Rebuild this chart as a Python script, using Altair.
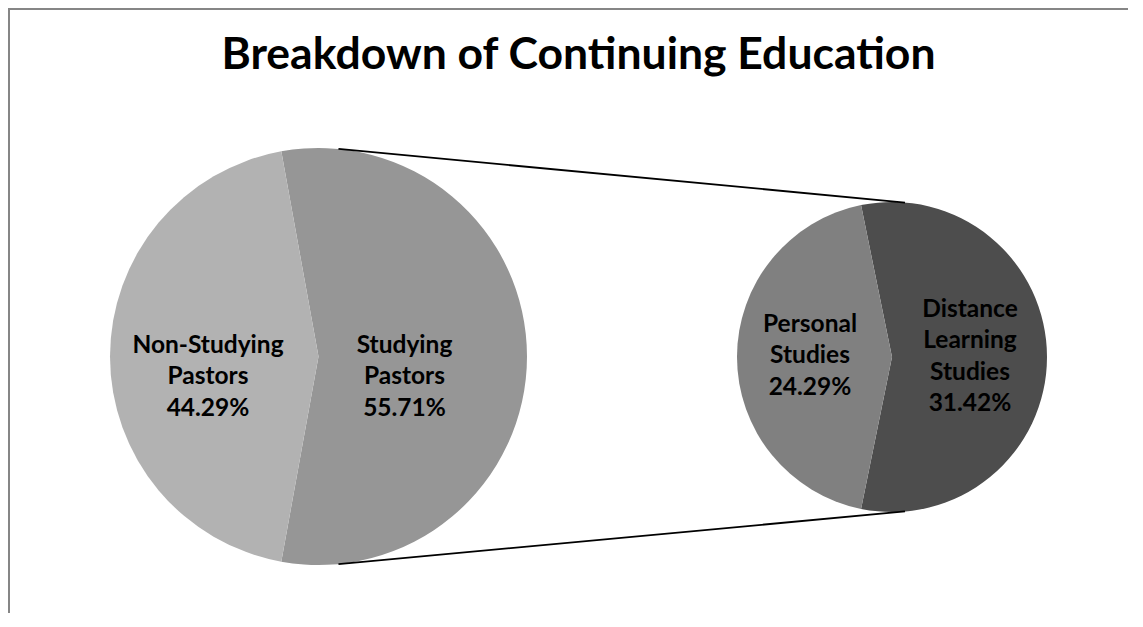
import math
import altair as alt
import pandas as pd

# ---------------- data ----------------
title_text = "Breakdown of Continuing Education"

main_cats = ["Studying Pastors", "Non-Studying Pastors"]
main_lines = [["Studying", "Pastors"], ["Non-Studying", "Pastors"]]
main_vals = [55.71, 44.29]
main_colors = ["#969696", "#b2b2b2"]

sub_cats = ["Distance Learning Studies", "Personal Studies"]
sub_lines = [["Distance", "Learning", "Studies"], ["Personal", "Studies"]]
sub_vals = [31.42, 24.29]
sub_colors = ["#4d4d4d", "#808080"]

# ---------------- layout ----------------
W, H = 1120, 605
FONT = "Lato"
LABEL_SIZE = 24.5
LINE_H = 31.5
L_CX, L_CY, L_R = 310.5, 348.5, 208.5
R_CX, R_CY, R_R = 884.0, 349.0, 155.0


def make_df(cats, lines, vals):
    labels = ["\n".join(ln + [f"{v:.2f}%"]) for ln, v in zip(lines, vals)]
    return pd.DataFrame({"cat": cats, "val": vals, "ord": list(range(len(cats))), "label": labels})


def pie(df, cats, colors, cx, cy, r, label_specs):
    total = float(df["val"].sum())
    first = float(df["val"].iloc[0])
    start = math.pi / 2 - math.pi * first / total
    theta = alt.Theta("val:Q", stack=True,
                      scale=alt.Scale(domain=[0, total], range=[start, start + 2 * math.pi]))
    arcs = alt.Chart(df).mark_arc(radius=r).encode(
        theta=theta,
        order=alt.Order("ord:Q"),
        color=alt.Color("cat:N", scale=alt.Scale(domain=cats, range=colors), legend=None),
        x=alt.value(cx), y=alt.value(cy),
    )
    texts = []
    for cat, rad, dy in label_specs:
        texts.append(
            alt.Chart(df).mark_text(
                radius=rad, dy=dy, font=FONT, fontSize=LABEL_SIZE, fontWeight="bold",
                lineBreak="\n", lineHeight=LINE_H, align="center", baseline="middle",
                color="black",
            ).encode(
                theta=theta,
                order=alt.Order("ord:Q"),
                text=alt.condition(alt.datum.cat == cat, "label:N", alt.value("")),
                x=alt.value(cx), y=alt.value(cy),
            )
        )
    return alt.layer(arcs, *texts)


left_df = make_df(main_cats, main_lines, main_vals)
right_df = make_df(sub_cats, sub_lines, sub_vals)

left_pie = pie(left_df, main_cats, main_colors, L_CX, L_CY, L_R,
               [("Studying Pastors", 86, 20.5 - LINE_H), ("Non-Studying Pastors", 110.5, 20.5 - LINE_H)])
right_pie = pie(right_df, sub_cats, sub_colors, R_CX, R_CY, R_R,
                [("Distance Learning Studies", 78, -1.5 * LINE_H), ("Personal Studies", 82, -1 - LINE_H)])

one = pd.DataFrame({"k": [0]})


def seg(x1, y1, x2, y2, color, width):
    return alt.Chart(one).mark_rule(color=color, strokeWidth=width).encode(
        x=alt.value(x1), y=alt.value(y1), x2=alt.value(x2), y2=alt.value(y2))


a_l = math.radians(5.5)
a_r = math.radians(4.8)
lt = (L_CX + L_R * math.sin(a_l), L_CY - L_R * math.cos(a_l))
lb = (L_CX + L_R * math.sin(a_l), L_CY + L_R * math.cos(a_l))
rt = (R_CX + R_R * math.sin(a_r), R_CY - R_R * math.cos(a_r))
rb = (R_CX + R_R * math.sin(a_r), R_CY + R_R * math.cos(a_r))

connectors = [
    seg(lt[0], lt[1], rt[0], rt[1], "black", 1.8),
    seg(lb[0], lb[1], rb[0], rb[1], "black", 1.8),
]

border = [
    seg(1, 0, 1, H, "#868686", 2),
    seg(0, 1, W, 1, "#868686", 2),
]

title = alt.Chart(one).mark_text(
    text=title_text, font=FONT, fontSize=44.5, fontWeight="bold",
    align="center", baseline="alphabetic", color="black",
).encode(x=alt.value(570.5), y=alt.value(60.5))

chart = alt.layer(
    left_pie, right_pie, *connectors, *border, title
).resolve_scale(
    theta="independent", color="independent"
).properties(
    width=W, height=H, padding=0, autosize="none"
).configure_view(stroke=None)

chart.save("out.html", embed_options={"renderer": "svg", "actions": False})
